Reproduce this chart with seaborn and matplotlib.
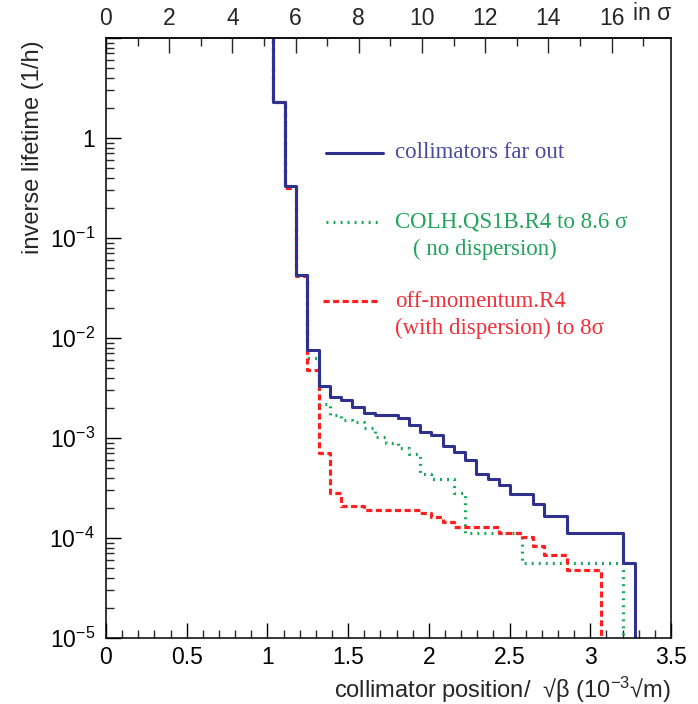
import numpy as np
import pandas as pd
import matplotlib
matplotlib.use("Agg")
import matplotlib.pyplot as plt
import seaborn as sns
from matplotlib.ticker import FixedLocator, NullFormatter, LogLocator

# ---------------- data ----------------
# bin edges of the step histograms (collimator position / sqrt(beta), 1e-3 sqrt(m))
edges = [1.037, 1.107, 1.177, 1.247, 1.317, 1.387, 1.456, 1.526, 1.596, 1.666,
         1.736, 1.806, 1.876, 1.946, 2.016, 2.086, 2.155, 2.225, 2.295, 2.365,
         2.435, 2.505, 2.575, 2.645, 2.715, 2.785, 2.854, 2.924, 2.994, 3.064,
         3.134, 3.204, 3.274]

far_out = [2.3, 0.333, 0.043, 0.0076, 0.0033, 0.0026, 0.0024, 0.00206, 0.00179,
           0.00169, 0.00169, 0.00157, 0.00135, 0.00114, 0.00107, 0.00083, 0.00073,
           0.0006, 0.00044, 0.000386, 0.000336, 0.000273, 0.000273, 0.000219,
           0.000166, 0.000166, 0.000111, 0.000111, 0.000111, 0.000111, 0.000111,
           5.6e-5]

colh = [2.3, 0.333, 0.043, 0.0063, 0.00217, 0.0017, 0.00151, 0.00146, 0.00125,
        0.00103, 0.0009, 0.00079, 0.00069, 0.00044, 0.00039, 0.00039, 0.00028,
        0.000111, 0.000111, 0.000111, 0.000111, 0.000111,
        5.6e-5, 5.6e-5, 5.6e-5, 5.6e-5, 5.6e-5, 5.6e-5, 5.6e-5, 5.6e-5, 5.6e-5]

offmom = [2.3, 0.316, 0.0414, 0.0048, 0.00071, 0.00028, 0.00021, 0.00021,
          0.00019, 0.00019, 0.00019, 0.00019, 0.00019, 0.000179, 0.000161,
          0.000144, 0.00013, 0.00013, 0.00013, 0.00013, 0.000111, 0.000111,
          0.000102, 8.4e-5, 6.7e-5, 6.7e-5, 4.8e-5, 4.8e-5, 4.8e-5]

labels = ["collimators far out", "COLH.QS1B.R4 to 8.6 σ", "off-momentum.R4"]
sublabels = ["", "( no dispersion)", "(with dispersion) to 8σ"]
y_ticklabels = ["1", r"$\mathregular{10^{-1}}$", r"$\mathregular{10^{-2}}$",
                r"$\mathregular{10^{-3}}$", r"$\mathregular{10^{-4}}$",
                r"$\mathregular{10^{-5}}$"]
y_tickvals = [1, 1e-1, 1e-2, 1e-3, 1e-4, 1e-5]
x_ticks = [0, 0.5, 1, 1.5, 2, 2.5, 3, 3.5]
x_ticklabels = ["0", "0.5", "1", "1.5", "2", "2.5", "3", "3.5"]
sigma_ticks = [0, 2, 4, 6, 8, 10, 12, 14, 16]

BLUE = "#30318f"
GREEN = "#14a855"
RED = "#ff1f1f"
BLUE_T = "#4a4a9e"
GREEN_T = "#22a45a"
RED_T = "#f0303a"

# ---------------- style ----------------
sns.set_style("ticks")
plt.rcParams["font.family"] = ["Liberation Sans Narrow", "Liberation Sans", "DejaVu Sans"]
plt.rcParams["mathtext.fontset"] = "custom"
plt.rcParams["mathtext.rm"] = "Liberation Sans Narrow"

fig = plt.figure(figsize=(6.98, 7.04), dpi=100)
ax = fig.add_axes([106 / 698, 1 - 638 / 704, 565 / 698, 600 / 704])

TOP, BOT = 1e3, 1e-8


def step_frame(vals, name):
    n = len(vals)
    x = [edges[0]] + edges[:n + 1]
    y = [TOP] + list(vals) + [BOT]
    return pd.DataFrame({"x": x, "y": y, "series": name})


df_blue = step_frame(far_out, labels[0])
df_green = step_frame(colh, labels[1])
df_red = step_frame(offmom, labels[2])

GREEN_LS = (0, (0.6, 1.6))
RED_LS = (0, (1.9, 1.1))

sns.lineplot(data=df_green, x="x", y="y", estimator=None, sort=False,
             drawstyle="steps-post", color=GREEN, lw=2.3, ax=ax,
             linestyle=GREEN_LS, legend=False)
sns.lineplot(data=df_red, x="x", y="y", estimator=None, sort=False,
             drawstyle="steps-post", color=RED, lw=2.3, ax=ax,
             linestyle=RED_LS, legend=False)
sns.lineplot(data=df_blue, x="x", y="y", estimator=None, sort=False,
             drawstyle="steps-post", color=BLUE, lw=2.2, ax=ax, legend=False)

ax.set_xlabel("")
ax.set_ylabel("")
ax.set_yscale("log")
ax.set_xlim(0, 3.5)
ax.set_ylim(1e-5, 10)

# ---------------- ticks ----------------
ax.xaxis.set_major_locator(FixedLocator(x_ticks))
ax.set_xticklabels(x_ticklabels)
ax.xaxis.set_minor_locator(FixedLocator(np.round(np.arange(0, 3.51, 0.1), 2)))
ax.yaxis.set_major_locator(FixedLocator(y_tickvals + [10]))
ax.set_yticklabels(y_ticklabels + [""])
ax.yaxis.set_minor_locator(LogLocator(base=10, subs=np.arange(2, 10)))
ax.yaxis.set_minor_formatter(NullFormatter())

ax.tick_params(axis="both", which="major", direction="in", length=11, width=1,
               labelsize=16.5, color="black", labelcolor="black")
ax.tick_params(axis="both", which="minor", direction="in", length=5.5, width=1)
ax.tick_params(axis="x", which="major", pad=6)
ax.tick_params(axis="y", which="major", pad=8)
for s in ax.spines.values():
    s.set_linewidth(1.1)
    s.set_color("black")

# top sigma axis
k = 17.88 / 3.5
sec = ax.secondary_xaxis("top", functions=(lambda v: v * k, lambda v: v / k))
sec.xaxis.set_major_locator(FixedLocator(sigma_ticks))
sec.xaxis.set_minor_locator(FixedLocator(list(range(0, 18))))
sec.set_xticklabels([str(t) for t in sigma_ticks])
sec.tick_params(which="major", direction="in", length=11, width=1, labelsize=16.5, pad=6)
sec.tick_params(which="minor", direction="in", length=5.5, width=1)
sec.spines["top"].set_linewidth(1.1)
ax.text(1.0, 1.0 + 24 / 600, "in σ", transform=ax.transAxes, ha="right",
        va="center", fontsize=16.5)

# axis labels (placed like the reference: y label at the top end, x label at the right end)
fig.text(33 / 698, 1 - 40 / 704, "inverse lifetime (1/h)", rotation=90,
         ha="center", va="top", fontsize=17)
fig.text(671 / 698, 1 - 690 / 704,
         r"collimator position/  √β (10$\mathregular{^{-3}}$√m)",
         ha="right", va="center", fontsize=17)

# ---------------- legend (keys drawn in axes fraction) ----------------
def fx(px):
    return (px - 106) / 565


def fy(py):
    return (638 - py) / 600


ax.plot([fx(326), fx(383)], [fy(153), fy(153)], transform=ax.transAxes,
        color=BLUE, lw=2.2)
ax.plot([fx(326), fx(381)], [fy(222), fy(222)], transform=ax.transAxes,
        color=GREEN, lw=2.3, linestyle=GREEN_LS)
ax.plot([fx(323), fx(380)], [fy(301), fy(301)], transform=ax.transAxes,
        color=RED, lw=2.3, linestyle=RED_LS)

serif = ["Liberation Serif", "DejaVu Serif"]
ax.text(fx(395), fy(152), labels[0], transform=ax.transAxes, color=BLUE_T,
        fontsize=16.5, family=serif, va="center", ha="left")
ax.text(fx(395), fy(222), labels[1], transform=ax.transAxes, color=GREEN_T,
        fontsize=16.5, family=serif, va="center", ha="left")
ax.text(fx(413), fy(249), sublabels[1], transform=ax.transAxes, color=GREEN_T,
        fontsize=16.5, family=serif, va="center", ha="left")
ax.text(fx(395), fy(302), labels[2], transform=ax.transAxes, color=RED_T,
        fontsize=16.5, family=serif, va="center", ha="left")
ax.text(fx(395), fy(328), sublabels[2], transform=ax.transAxes, color=RED_T,
        fontsize=16.5, family=serif, va="center", ha="left")

fig.savefig("out.png", dpi=100)
